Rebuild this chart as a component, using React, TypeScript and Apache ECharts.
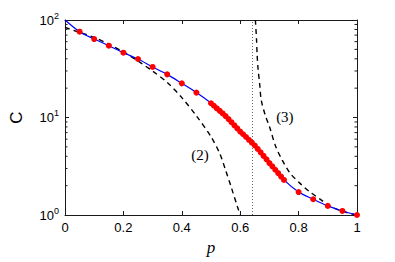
import React, { useEffect, useRef } from "react";
import * as echarts from "echarts";

// Simulation points (red dots)
const redP = [
  0.05, 0.1, 0.15, 0.2, 0.25, 0.3, 0.35, 0.4, 0.45,
  0.5, 0.51, 0.52, 0.53, 0.54, 0.55, 0.56, 0.57, 0.58, 0.59, 0.6,
  0.61, 0.62, 0.63, 0.64, 0.65, 0.66, 0.67, 0.68, 0.69, 0.7,
  0.71, 0.72, 0.73, 0.74, 0.75,
  0.8, 0.85, 0.9, 0.95, 1.0,
];
const redC = [
  75.9, 63.8, 54.5, 46.2, 39.8, 33.0, 27.7, 22.4, 18.0,
  14.0, 13.2, 12.4, 11.7, 11.0, 10.35, 9.64, 8.95, 8.32, 7.73, 7.18,
  6.73, 6.31, 5.9, 5.52, 5.16, 4.76, 4.39, 4.04, 3.72, 3.41,
  3.16, 2.91, 2.69, 2.48, 2.29,
  1.72, 1.45, 1.24, 1.1, 1.0,
];

// Theory curve (blue)
const blueP = [0, 0.05, 0.1, 0.15, 0.2, 0.25, 0.3, 0.35, 0.4, 0.45, 0.5, 0.55, 0.6, 0.65, 0.7, 0.75, 0.8, 0.85, 0.9, 0.95, 1.0];
const blueC = [100, 75.9, 63.8, 54.5, 46.2, 39.8, 33.0, 27.7, 22.4, 18.0, 14.0, 10.35, 7.18, 5.16, 3.41, 2.29, 1.72, 1.45, 1.24, 1.1, 1.0];

// Approximation (2), dashed
const dash2P = [0, 0.05, 0.1, 0.15, 0.2, 0.25, 0.3, 0.35, 0.4, 0.45, 0.5, 0.53, 0.55, 0.57, 0.59, 0.6];
const dash2C = [84, 74.6, 66.4, 56.5, 47.1, 38.0, 29.9, 22.9, 16.0, 10.4, 6.35, 4.27, 2.88, 1.9, 1.23, 1.0];

// Approximation (3), dashed
const dash3P = [0.652, 0.656, 0.658, 0.661, 0.667, 0.672, 0.686, 0.7, 0.722, 0.744, 0.771, 0.805, 0.838, 0.877, 0.91, 0.95, 1.0];
const dash3C = [100, 62.4, 43.8, 32, 21.5, 15.1, 10.5, 8.1, 5.0, 3.66, 2.68, 2.11, 1.73, 1.43, 1.22, 1.09, 1.0];

// Critical point (dotted vertical)
const pCritical = 0.643;

// Curve labels
const curveLabels = ["(2)", "(3)"];
const curveLabelP = [0.462, 0.753];
const curveLabelC = [4.12, 10.2];

// Axis ticks
const xTicks = [0, 0.2, 0.4, 0.6, 0.8, 1];
const minorYTicks = [2, 3, 4, 5, 6, 7, 8, 9, 20, 30, 40, 50, 60, 70, 80, 90];

const zip = (a: number[], b: number[]) => a.map((v, i) => [v, b[i]]);

export default function App() {
  const ref = useRef<HTMLDivElement>(null);
  useEffect(() => {
    if (!ref.current) return;
    const chart = echarts.init(ref.current, null, { renderer: "svg" });
    const axisColor = "#1a1a1a";
    const sans = "Liberation Sans";
    chart.setOption({
      animation: false,
      grid: { left: 56, right: 38, top: 20, bottom: 47 },
      xAxis: [
        {
          type: "value",
          min: 0,
          max: 1,
          interval: 0.2,
          name: "p",
          nameLocation: "middle",
          nameGap: 22,
          nameTextStyle: { fontFamily: "Liberation Serif", fontStyle: "italic", fontSize: 17, color: "#000" },
          axisLine: { show: true, onZero: false, lineStyle: { color: axisColor, width: 1 } },
          axisTick: { show: true, inside: true, length: 4, lineStyle: { color: axisColor } },
          axisLabel: {
            fontFamily: sans,
            fontSize: 13,
            color: "#000",
            margin: 6,
            formatter: (v: number) => (xTicks.includes(Math.round(v * 10) / 10) ? String(Math.round(v * 10) / 10) : ""),
          },
          splitLine: { show: false },
        },
        {
          type: "value",
          position: "top",
          min: 0,
          max: 1,
          interval: 0.2,
          axisLine: { show: true, onZero: false, lineStyle: { color: axisColor, width: 1 } },
          axisTick: { show: true, inside: true, length: 4, lineStyle: { color: axisColor } },
          axisLabel: { show: false },
          splitLine: { show: false },
        },
      ],
      yAxis: [
        {
          type: "log",
          logBase: 10,
          min: 1,
          max: 100,
          name: "C",
          nameLocation: "middle",
          nameGap: 40,
          nameRotate: 90,
          nameTextStyle: { fontFamily: sans, fontSize: 17, color: "#000" },
          axisLine: { show: true, onZero: false, lineStyle: { color: axisColor, width: 1 } },
          axisTick: { show: true, inside: true, length: 4, lineStyle: { color: axisColor } },
          axisLabel: {
            margin: 6,
            formatter: (v: number) => `{b|10}{s|${Math.round(Math.log10(v))}}`,
            rich: {
              b: { fontFamily: sans, fontSize: 13, color: "#000" },
              s: { fontFamily: sans, fontSize: 9, color: "#000", padding: [0, 0, 9, 0] },
            },
          },
          splitLine: { show: false },
        },
        {
          type: "log",
          logBase: 10,
          min: 1,
          max: 100,
          position: "right",
          axisLine: { show: true, onZero: false, lineStyle: { color: axisColor, width: 1 } },
          axisTick: { show: true, inside: true, length: 4, lineStyle: { color: axisColor } },
          axisLabel: { show: false },
          splitLine: { show: false },
        },
      ],
      series: [
        {
          type: "custom",
          name: "minorTicks",
          xAxisIndex: 0,
          yAxisIndex: 0,
          clip: false,
          silent: true,
          data: minorYTicks.map((v) => [0, v]),
          renderItem: (_params: any, api: any) => {
            const v = api.value(1);
            const a = api.coord([0, v]);
            const b = api.coord([1, v]);
            return {
              type: "group",
              children: [
                { type: "line", shape: { x1: a[0], y1: a[1], x2: a[0] + 2.5, y2: a[1] }, style: { stroke: axisColor, lineWidth: 1 } },
                { type: "line", shape: { x1: b[0], y1: b[1], x2: b[0] - 2.5, y2: b[1] }, style: { stroke: axisColor, lineWidth: 1 } },
              ],
            };
          },
        },
        {
          type: "line",
          name: "critical",
          data: [],
          markLine: {
            silent: true,
            symbol: "none",
            label: { show: false },
            lineStyle: { type: [1, 2], color: "#666", width: 1, opacity: 1 },
            data: [{ xAxis: pCritical }],
          },
        },
        {
          type: "line",
          name: "(2)",
          data: zip(dash2P, dash2C),
          smooth: 0.3,
          showSymbol: false,
          lineStyle: { color: "#000", width: 1.4, type: [5, 4] },
        },
        {
          type: "line",
          name: "(3)",
          data: zip(dash3P, dash3C),
          smooth: 0.3,
          showSymbol: false,
          lineStyle: { color: "#000", width: 1.4, type: [5, 4] },
        },
        {
          type: "line",
          name: "theory",
          data: zip(blueP, blueC),
          smooth: 0.3,
          showSymbol: false,
          lineStyle: { color: "#0000ff", width: 1.2 },
        },
        {
          type: "scatter",
          name: "simulation",
          data: zip(redP, redC),
          symbolSize: 6,
          z: 5,
          itemStyle: { color: "#ff0000", opacity: 1 },
        },
        {
          type: "scatter",
          name: "labels",
          data: curveLabelP.map((p, i) => ({ value: [p, curveLabelC[i]], name: curveLabels[i] })),
          symbolSize: 0,
          itemStyle: { opacity: 1 },
          label: {
            show: true,
            position: "inside",
            formatter: (d: any) => d.name,
            fontFamily: "Liberation Serif",
            fontSize: 15,
            color: "#000",
            opacity: 1,
          },
        },
      ],
    });
    return () => chart.dispose();
  }, []);
  return <div ref={ref} style={{ width: 395, height: 262, position: "absolute", left: 0, top: 0, background: "#fff" }} />;
}
